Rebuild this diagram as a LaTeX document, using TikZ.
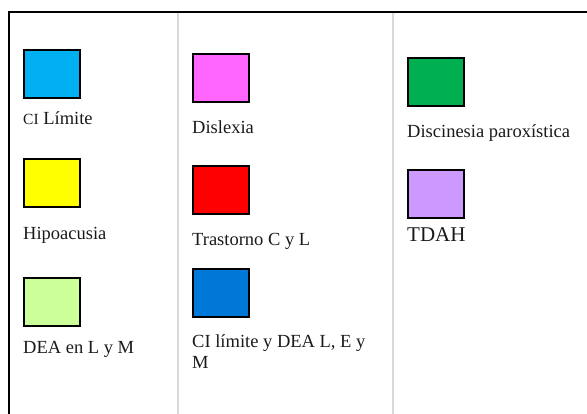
\documentclass[tikz,border=0pt]{standalone}
\usepackage{fontspec}
\setmainfont{Liberation Serif}
\definecolor{cCyan}{HTML}{00B0F0}
\definecolor{cYellow}{HTML}{FFFF00}
\definecolor{cLime}{HTML}{CCFF99}
\definecolor{cMagenta}{HTML}{FF66FF}
\definecolor{cRed}{HTML}{FF0000}
\definecolor{cBlue}{HTML}{0078D7}
\definecolor{cGreen}{HTML}{00B050}
\definecolor{cPurple}{HTML}{CC99FF}
\definecolor{cDivider}{HTML}{D9D9D9}
\definecolor{cText}{HTML}{1A1A1A}
\begin{document}
\begin{tikzpicture}[x=1pt,y=-1pt,
  swatch/.style={draw=black,line width=2pt,inner sep=0pt,minimum width=56pt,minimum height=48pt},
  lbl/.style={inner sep=0pt,anchor=base west,text=cText,font=\fontsize{18.5}{20.7}\selectfont,align=left},
  bigl/.style={lbl,font=\fontsize{21}{23}\selectfont},
  frame/.style={draw=black,line width=2pt},
  divider/.style={draw=cDivider,line width=1.6pt}]
\useasboundingbox (0,0) rectangle (587,414);
% frame and dividers
\coordinate (tl) at (9,12);
\coordinate (tr) at (588,12);
\coordinate (bl) at (9,415);
\coordinate (d1t) at (178,13);
\coordinate (d1b) at (178,415);
\coordinate (d2t) at (393,13);
\coordinate (d2b) at (393,415);
\draw[divider] (d1t) -- (d1b);
\draw[divider] (d2t) -- (d2b);
\draw[frame] (bl) -- (tl) -- (tr);
% column 1
\node[swatch,fill=cCyan] (s1) at (52,74.3) {};
\node[lbl] (t1) at (23,125) {{\fontsize{15.5}{16}\selectfont CI} Límite};
\node[swatch,fill=cYellow] (s2) at (52,182.7) {};
\node[lbl] (t2) at (23,239.3) {Hipoacusia};
\node[swatch,fill=cLime] (s3) at (52,302.3) {};
\node[lbl] (t3) at (23,353.3) {DEA en L y M};
% column 2
\node[swatch,fill=cMagenta] (s4) at (220.8,78.3) {};
\node[lbl] (t4) at (192,133.3) {Dislexia};
\node[swatch,fill=cRed] (s5) at (220.8,190.2) {};
\node[lbl] (t5) at (192,246) {Trastorno C y L};
\node[swatch,fill=cBlue] (s6) at (220.8,293) {};
\node[lbl] (t6) at (192,368.3) {CI límite y DEA L, E y\\M};
% column 3
\node[swatch,fill=cGreen] (s7) at (436.3,82.5) {};
\node[lbl] (t7) at (407,137.7) {Discinesia paroxística};
\node[swatch,fill=cPurple] (s8) at (436.3,194.3) {};
\node[bigl] (t8) at (407,241.7) {TDAH};
\end{tikzpicture}
\end{document}
